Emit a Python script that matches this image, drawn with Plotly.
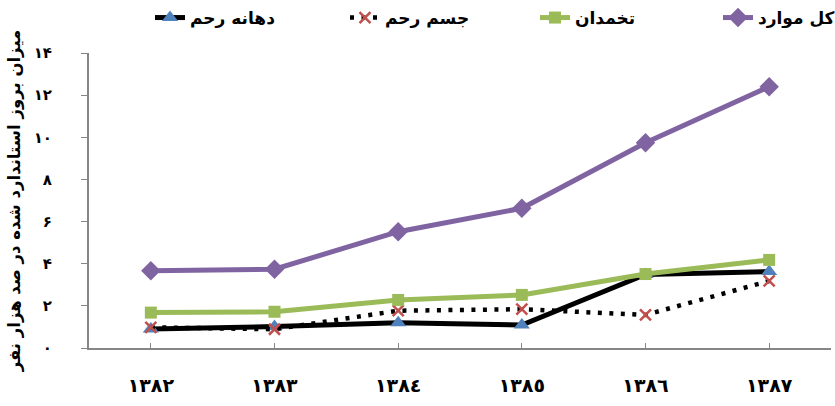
import plotly.graph_objects as go

years = ["۱۳۸۲", "۱۳۸۳", "۱۳۸٤", "۱۳۸٥", "۱۳۸٦", "۱۳۸۷"]
cervix = [0.90, 1.02, 1.20, 1.09, 3.49, 3.63]      # دهانه رحم
uterus = [0.98, 0.89, 1.77, 1.84, 1.57, 3.18]      # جسم رحم
ovary = [1.68, 1.72, 2.28, 2.52, 3.51, 4.18]       # تخمدان
total = [3.67, 3.74, 5.52, 6.63, 9.74, 12.40]      # کل موارد

y_ticks = [0, 2, 4, 6, 8, 10, 12, 14]
y_tick_text = ["۰", "۲", "۴", "۶", "۸", "۱۰", "۱۲", "۱۴"]

FONT = "DejaVu Sans"
x = list(range(len(years)))

fig = go.Figure()
fig.add_trace(go.Scatter(
    x=x, y=cervix, name="<b>دهانه رحم</b>", mode="lines+markers", legend="legend",
    line=dict(color="black", width=5),
    marker=dict(symbol="triangle-up", size=14, color="#4F81BD"),
))
fig.add_trace(go.Scatter(
    x=x, y=uterus, name="<b>جسم رحم</b>", mode="lines+markers", legend="legend2",
    line=dict(color="black", width=4.5, dash="4px,7.5px"),
    marker=dict(symbol="x-thin", size=11, color="#C0504D",
                line=dict(color="#C0504D", width=2.5)),
))
fig.add_trace(go.Scatter(
    x=x, y=ovary, name="<b>تخمدان</b>", mode="lines+markers", legend="legend3",
    line=dict(color="#9BBB59", width=5),
    marker=dict(symbol="square", size=12, color="#9BBB59"),
))
fig.add_trace(go.Scatter(
    x=x, y=total, name="<b>کل موارد</b>", mode="lines+markers", legend="legend4",
    line=dict(color="#8064A2", width=5),
    marker=dict(symbol="diamond", size=15, color="#8064A2"),
))


def legend_at(px):
    return dict(
        orientation="h", x=px / 835, xref="container", xanchor="left",
        y=1.0, yref="container", yanchor="top",
        font=dict(size=17, family=FONT, color="black"),
        bgcolor="rgba(0,0,0,0)",
    )


fig.update_layout(
    width=835, height=406,
    margin=dict(l=89, r=4, t=53, b=58, autoexpand=False),
    paper_bgcolor="white", plot_bgcolor="white",
    font=dict(family=FONT, color="black"),
    showlegend=True,
    legend=legend_at(150),
    legend2=legend_at(345),
    legend3=legend_at(535),
    legend4=legend_at(718),
)
fig.update_xaxes(
    tickmode="array", tickvals=x, ticktext=["<b>%s</b>" % t for t in years],
    range=[-0.5, 5.5], showline=True, linecolor="#868686", linewidth=2,
    ticks="inside", ticklen=5, tickcolor="#868686", tickwidth=1,
    showgrid=False, zeroline=False, tickfont=dict(size=19, family=FONT),
    ticklabelstandoff=19, automargin=False,
)
fig.update_yaxes(
    tickmode="array", tickvals=y_ticks, ticktext=["<b>%s</b>" % t for t in y_tick_text],
    range=[0, 14], showline=True, linecolor="#868686", linewidth=2,
    ticks="outside", ticklen=6, tickcolor="#868686", tickwidth=1,
    showgrid=False, zeroline=False, tickfont=dict(size=15, family=FONT),
    ticklabelstandoff=26, automargin=False,
    title=dict(text="<b>میزان بروز استاندارد شده در صد هزار نفر</b>",
               font=dict(size=16.5, family=FONT), standoff=9),
)

fig.write_html("out.html", config={"displayModeBar": False},
               post_script="document.body.style.margin='0';")
